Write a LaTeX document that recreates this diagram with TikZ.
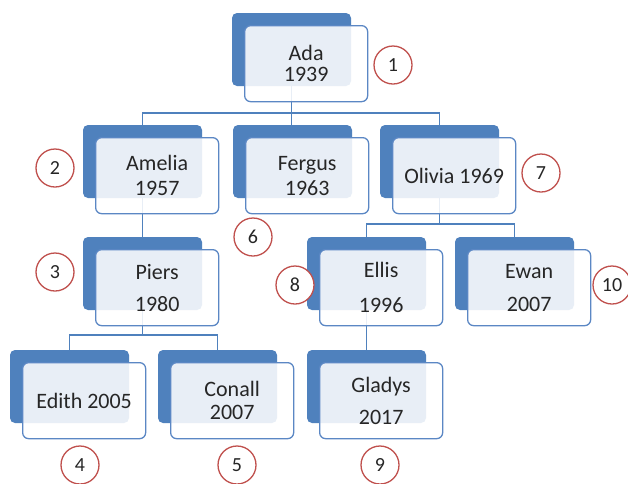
\documentclass[tikz,border=0pt]{standalone}
\usepackage{fontspec}
\setmainfont{Carlito}
\usetikzlibrary{backgrounds}
\definecolor{bblue}{HTML}{4F81BD}
\definecolor{fblue}{HTML}{5B87C4}
\definecolor{lblue}{HTML}{4F81BD}
\definecolor{cred}{HTML}{C0504D}
\definecolor{txt}{HTML}{262626}
\tikzset{
 backbox/.style={draw=none, fill=bblue, rounded corners=5pt, minimum width=119pt, minimum height=73pt, anchor=north west, inner sep=0pt, outer sep=0pt},
 frontbox/.style={draw=fblue, line width=1.3pt, fill=white, fill opacity=0.87, rounded corners=6pt, minimum width=123pt, minimum height=76pt, anchor=north west, inner sep=0pt},
 lbl/.style={font=\fontsize{22}{25}\selectfont, align=center, text=txt, inner sep=0pt},
 num/.style={circle, draw=cred, line width=1.3pt, fill=white, minimum size=38pt, inner sep=0pt, font=\fontsize{20}{22}\selectfont, text=txt},
 conn/.style={draw=lblue, line width=1.5pt}
}
\newcommand\pers[4]{%
 \node[backbox] (#1) at (#2,#3) {};
 \node[frontbox] (#1F) at ({#2+12},{#3+12}) {};
 \node[lbl] (#1T) at (#1F.center) {#4};
}
\begin{document}
\begin{tikzpicture}[x=1pt,y=-1pt]
\useasboundingbox (0,0) rectangle (628,483);
\pers{ada}{232}{13}{Ada\\[-4pt]1939}
\pers{amelia}{83}{125}{Amelia\\[0pt]1957}
\pers{fergus}{233}{125}{Fergus\\[0pt]1963}
\pers{olivia}{380}{125}{Olivia 1969}
\pers{piers}{83}{237}{Piers\\[7pt]1980}
\pers{ellis}{307}{237}{Ellis\\[10pt]1996}
\pers{ewan}{455}{237}{Ewan\\[8pt]2007}
\pers{edith}{10}{350}{Edith 2005}
\pers{conall}{158}{350}{Conall\\[-2pt]2007}
\pers{gladys}{307}{350}{Gladys\\[7pt]2017}
\coordinate (b1) at (0,113);
\coordinate (b2) at (0,335);
\coordinate (b3) at (0,224);
\begin{scope}[on background layer]
\fill[white] (0,0) rectangle (628,483);
\draw[conn] (amelia.north) |- (olivia.north |- b1) -- (olivia.north);
\draw[conn] (ada.south) -- (ada.south |- fergus.north);
\draw[conn] (amelia.south) -- (piers.north);
\draw[conn] (edith.north) |- (conall.north |- b2) -- (conall.north);
\draw[conn] (piers.south) -- (piers.south |- b2);
\draw[conn] (ellis.north) |- (ewan.north |- b3) -- (ewan.north);
\draw[conn] (olivia.south) -- (olivia.south |- b3);
\draw[conn] (ellis.south) -- (gladys.north);
\end{scope}
\node[num] (c1) at (393,65) {1};
\node[num] (c2) at (55,168) {2};
\node[num] (c3) at (55,272) {3};
\node[num] (c4) at (80,465) {4};
\node[num] (c5) at (237,465) {5};
\node[num] (c6) at (253,237) {6};
\node[num] (c7) at (541,173) {7};
\node[num] (c8) at (295,285) {8};
\node[num] (c9) at (380,465) {9};
\node[num] (c10) at (612,285) {10};
\end{tikzpicture}
\end{document}
